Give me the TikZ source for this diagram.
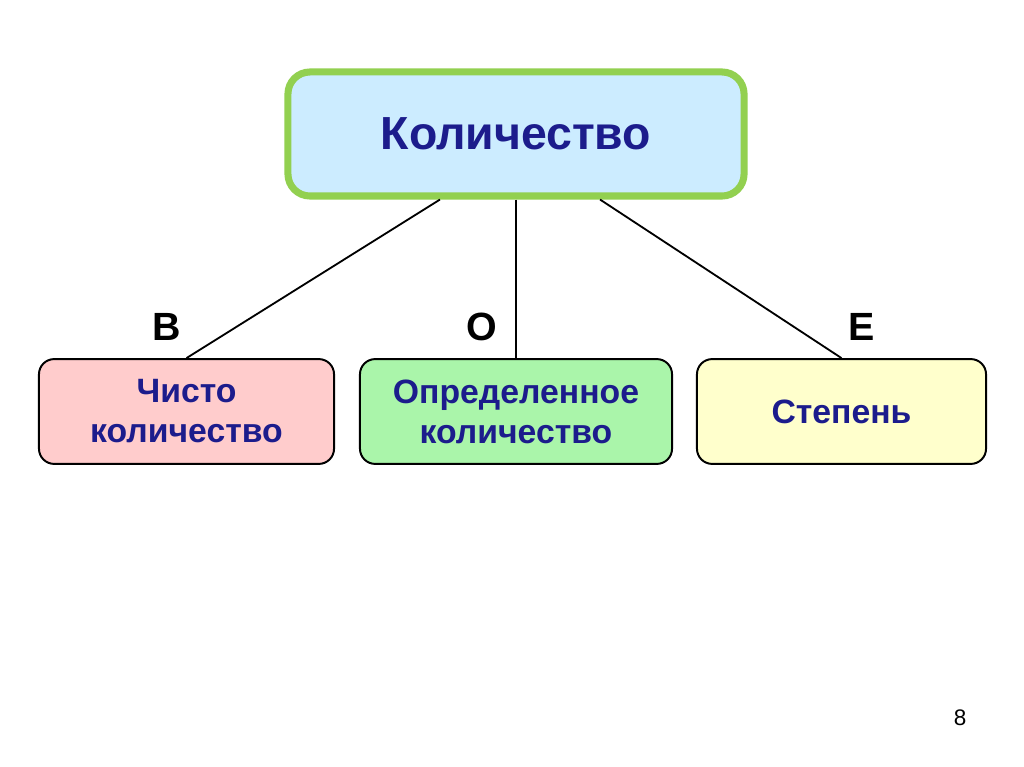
\documentclass[tikz,border=0pt]{standalone}
\usepackage{fontspec}
\setmainfont{Liberation Sans}
\usepackage{tikz}
\usetikzlibrary{positioning, calc}
\usepackage{xcolor}
\definecolor{boxgreen}{RGB}{146,208,80}
\definecolor{skyfill}{RGB}{204,236,255}
\definecolor{pinkfill}{RGB}{255,204,204}
\definecolor{mintfill}{RGB}{170,245,170}
\definecolor{lemonfill}{RGB}{255,255,204}
\definecolor{inkblue}{RGB}{28,28,140}
\tikzset{
    topbox/.style={
        draw=boxgreen,
        fill=skyfill,
        line width=5pt,
        rounded corners=0.55cm,
        minimum width=11.4cm,
        minimum height=3.1cm,
        text=inkblue,
        font=\fontsize{33}{40}\selectfont\bfseries
    },
    subbox/.style={
        draw=black,
        line width=1.4pt,
        rounded corners=0.38cm,
        minimum height=2.62cm,
        align=center,
        text=inkblue,
        font=\fontsize{24}{28.5}\selectfont\bfseries
    },
    letter/.style={
        font=\fontsize{28}{32}\selectfont\bfseries
    },
    link/.style={
        line width=1.3pt
    }
}

\begin{document}
\begin{tikzpicture}[x=0.025cm, y=-0.025cm]
      \useasboundingbox (0,0) rectangle (1024,767);
      \fill[white] (0,0) rectangle (1024,767);

      \node[topbox] (kol) at (516,134) {Количество};

      \node[subbox, fill=pinkfill, minimum width=7.375cm] (chisto) at (186.5,411.5) {Чисто\\количество};
      \node[subbox, fill=mintfill, minimum width=7.8cm]   (opred)  at (516,411.5)   {Определенное\\количество};
      \node[subbox, fill=lemonfill, minimum width=7.225cm] (step)  at (841.5,411.5) {Степень};

      \node[letter] (lv) at (167,327) {В};
      \node[letter] (lo) at (482,327) {О};
      \node[letter] (le) at (862,327) {Е};

      \draw[link] ([xshift=-1.9cm]kol.south) -- (chisto.north);
      \draw[link] (kol.south) -- (opred.north);
      \draw[link] ([xshift=2.1cm]kol.south) -- (step.north);

      \node[font=\fontsize{16}{18}\selectfont] (pnum) at (960,718) {8};
    \end{tikzpicture}
\end{document}
